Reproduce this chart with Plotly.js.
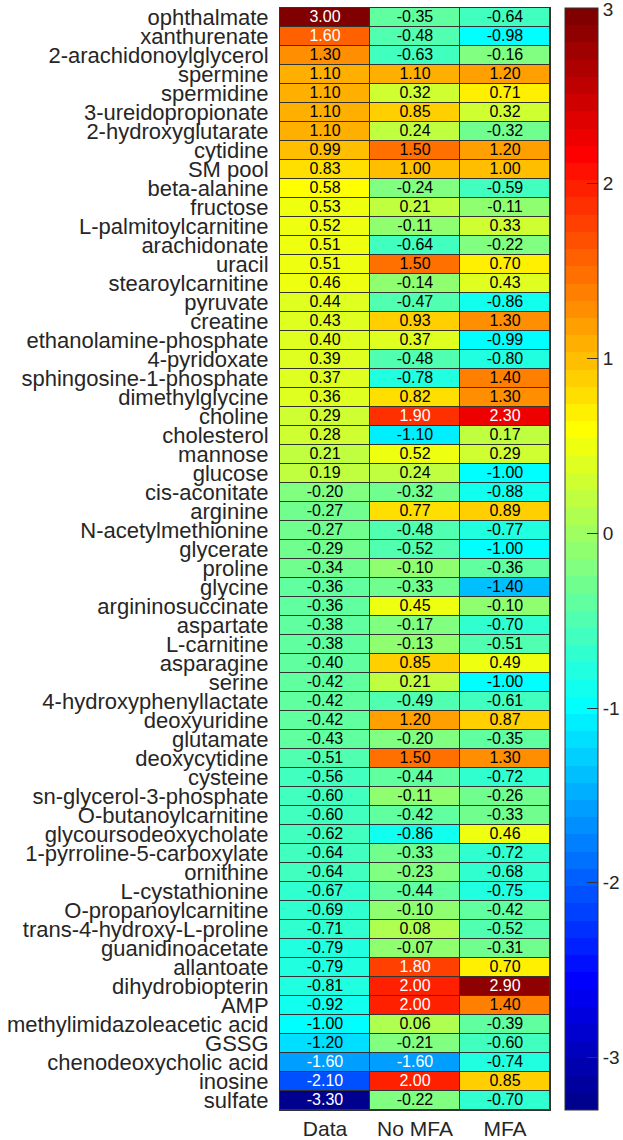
<!DOCTYPE html>
<html>
<head>
<meta charset="utf-8">
<script src="https://cdn.plot.ly/plotly-3.0.1.min.js"></script>
<style>html,body{margin:0;padding:0;background:#fff;}#chart{width:623px;height:1140px;}</style>
</head>
<body>
<div id="chart"></div>
<script>
const metabolites = ["ophthalmate","xanthurenate","2-arachidonoylglycerol","spermine","spermidine","3-ureidopropionate","2-hydroxyglutarate","cytidine","SM pool","beta-alanine","fructose","L-palmitoylcarnitine","arachidonate","uracil","stearoylcarnitine","pyruvate","creatine","ethanolamine-phosphate","4-pyridoxate","sphingosine-1-phosphate","dimethylglycine","choline","cholesterol","mannose","glucose","cis-aconitate","arginine","N-acetylmethionine","glycerate","proline","glycine","argininosuccinate","aspartate","L-carnitine","asparagine","serine","4-hydroxyphenyllactate","deoxyuridine","glutamate","deoxycytidine","cysteine","sn-glycerol-3-phosphate","O-butanoylcarnitine","glycoursodeoxycholate","1-pyrroline-5-carboxylate","ornithine","L-cystathionine","O-propanoylcarnitine","trans-4-hydroxy-L-proline","guanidinoacetate","allantoate","dihydrobiopterin","AMP","methylimidazoleacetic acid","GSSG","chenodeoxycholic acid","inosine","sulfate"];
const columns = ["Data","No MFA","MFA"];
const dataVals = [3.00,1.60,1.30,1.10,1.10,1.10,1.10,0.99,0.83,0.58,0.53,0.52,0.51,0.51,0.46,0.44,0.43,0.40,0.39,0.37,0.36,0.29,0.28,0.21,0.19,-0.20,-0.27,-0.27,-0.29,-0.34,-0.36,-0.36,-0.38,-0.38,-0.40,-0.42,-0.42,-0.42,-0.43,-0.51,-0.56,-0.60,-0.60,-0.62,-0.64,-0.64,-0.67,-0.69,-0.71,-0.79,-0.79,-0.81,-0.92,-1.00,-1.20,-1.60,-2.10,-3.30];
const noMfaVals = [-0.35,-0.48,-0.63,1.10,0.32,0.85,0.24,1.50,1.00,-0.24,0.21,-0.11,-0.64,1.50,-0.14,-0.47,0.93,0.37,-0.48,-0.78,0.82,1.90,-1.10,0.52,0.24,-0.32,0.77,-0.48,-0.52,-0.10,-0.33,0.45,-0.17,-0.13,0.85,0.21,-0.49,1.20,-0.20,1.50,-0.44,-0.11,-0.42,-0.86,-0.33,-0.23,-0.44,-0.10,0.08,-0.07,1.80,2.00,2.00,0.06,-0.21,-1.60,2.00,-0.22];
const mfaVals = [-0.64,-0.98,-0.16,1.20,0.71,0.32,-0.32,1.20,1.00,-0.59,-0.11,0.33,-0.22,0.70,0.43,-0.86,1.30,-0.99,-0.80,1.40,1.30,2.30,0.17,0.29,-1.00,-0.88,0.89,-0.77,-1.00,-0.36,-1.40,-0.10,-0.70,-0.51,0.49,-1.00,-0.61,0.87,-0.35,1.30,-0.72,-0.26,-0.33,0.46,-0.72,-0.68,-0.75,-0.42,-0.52,-0.31,0.70,2.90,1.40,-0.39,-0.60,-0.74,0.85,-0.70];
const colorTicks = [-3,-2,-1,0,1,2,3];
const colorTickText = ["-3","-2","-1","0","1","2","3"];

// MATLAB jet(64) colormap, stepped
function jet64(){
  const n=64,m=16;
  const u=[];
  for(let i=1;i<=16;i++)u.push(i/16);
  for(let i=0;i<15;i++)u.push(1);
  for(let i=16;i>=1;i--)u.push(i/16);
  const J=[];for(let i=0;i<n;i++)J.push([0,0,0]);
  for(let k=0;k<u.length;k++){
    const g=9+k, r=g+m, b=g-m;
    if(r<=n) J[r-1][0]=u[k];
    if(g<=n) J[g-1][1]=u[k];
    if(b>0 && b<=n) J[b-1][2]=u[k];
  }
  return J.map(c=>'rgb('+c.map(v=>Math.round(v*255)).join(',')+')');
}
const jc = jet64();
const colorscale=[];
jc.forEach((c,i)=>{colorscale.push([i/64,c]);colorscale.push([(i+1)/64,c]);});

const series=[dataVals,noMfaVals,mfaVals];
const z = metabolites.map((_,r)=>series.map(s=>s[r]));
const zmin=Math.min(...dataVals,...noMfaVals,...mfaVals);
const zmax=Math.max(...dataVals,...noMfaVals,...mfaVals)+0.005;

const tx=[],ty=[],tt=[],tc=[];
metabolites.forEach((name,r)=>{
  columns.forEach((col,c)=>{
    const v=series[c][r];
    tx.push(col);ty.push(name);tt.push(v.toFixed(2));
    tc.push(Math.abs(v)>1.5?'#ffffff':'#000000');
  });
});

const FONT='"Liberation Sans", Arial, Helvetica, sans-serif';
const traces=[
  {type:'heatmap',x:columns,y:metabolites,z:z,zmin:zmin,zmax:zmax,colorscale:colorscale,
   xgap:1,ygap:1,hoverinfo:'skip',
   colorbar:{thickness:33,thicknessmode:'pixels',len:1,lenmode:'fraction',x:1.0556,xanchor:'left',xpad:0,
     y:0.5,yanchor:'middle',ypad:0,outlinewidth:1,outlinecolor:'#333',
     tickmode:'array',tickvals:colorTicks,ticktext:colorTickText,ticks:'inside',ticklen:11,tickcolor:'#333',tickwidth:1,
     ticklabeloverflow:'allow',
     tickfont:{family:FONT,size:19,color:'#262626'}}},
  {type:'scatter',mode:'text',x:tx,y:ty,text:tt,textposition:'middle center',cliponaxis:false,
   textfont:{family:FONT,size:16,color:tc},hoverinfo:'skip',showlegend:false}
];
const layout={
  width:623,height:1140,
  margin:{l:280,r:73,t:8,b:30,pad:0,autoexpand:false},
  paper_bgcolor:'#ffffff',plot_bgcolor:'#333333',
  font:{family:FONT,color:'#262626'},
  showlegend:false,
  xaxis:{type:'category',categoryorder:'array',categoryarray:columns,range:[-0.5,columns.length-0.5],autorange:false,
    showgrid:false,zeroline:false,tickmode:'array',tickvals:columns,ticktext:columns,
    ticks:'',tickfont:{family:FONT,size:21,color:'#262626'},showline:true,linecolor:'#333',linewidth:1,mirror:true,
    ticklabelstandoff:0},
  yaxis:{type:'category',categoryorder:'array',categoryarray:metabolites,range:[metabolites.length-0.5,-0.5],autorange:false,
    showgrid:false,zeroline:false,tickmode:'array',tickvals:metabolites,ticktext:metabolites,
    ticks:'',tickfont:{family:FONT,size:22,color:'#262626'},showline:true,linecolor:'#333',linewidth:1,mirror:true,
    ticklabelstandoff:6}
};
Plotly.newPlot('chart',traces,layout,{displayModeBar:false,staticPlot:true});
</script>
</body>
</html>
